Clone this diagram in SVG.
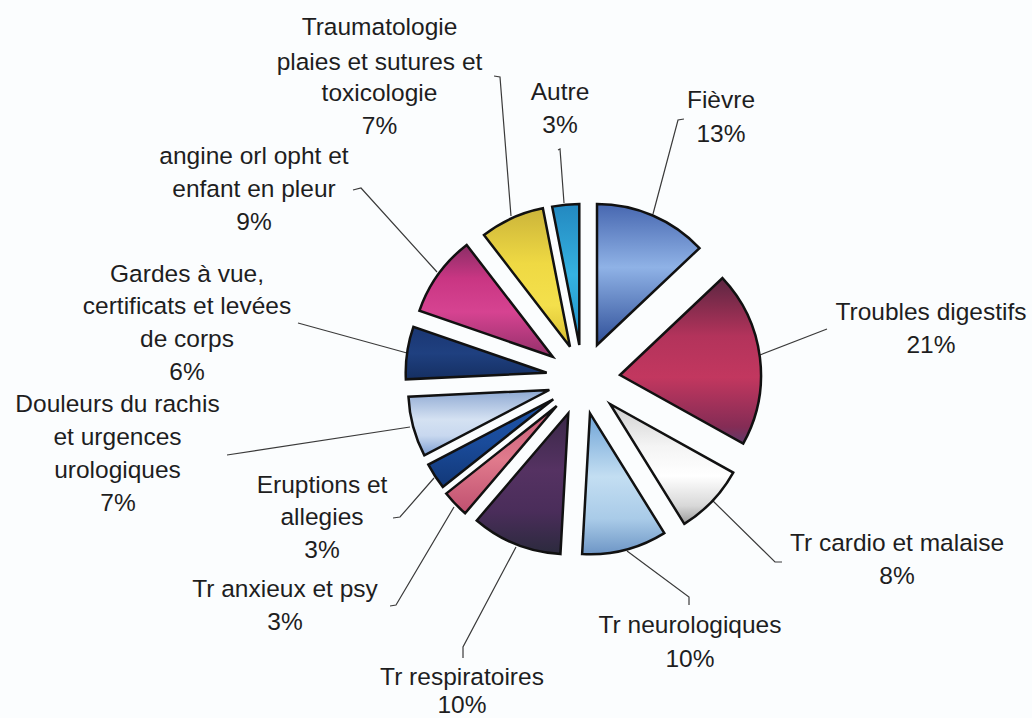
<svg xmlns="http://www.w3.org/2000/svg" width="1032" height="718" viewBox="0 0 1032 718">
<defs>
<style>
.lbl{font-family:"Liberation Sans",Arial,sans-serif;font-size:24.5px;fill:#1e1e1e;text-anchor:middle}
.slice{stroke:#111;stroke-width:2.5;stroke-linejoin:miter}
.lead{fill:none;stroke:#3a3a3a;stroke-width:1.2}
</style>
<linearGradient id="gFievre" x1="0" y1="0" x2="0" y2="1"><stop offset="0" stop-color="#4767b0"/><stop offset="0.45" stop-color="#8fb2e6"/><stop offset="1" stop-color="#2f4f98"/></linearGradient>
<linearGradient id="gTroubles" x1="0" y1="0" x2="0" y2="1"><stop offset="0" stop-color="#5b2641"/><stop offset="0.35" stop-color="#b3335b"/><stop offset="0.6" stop-color="#c2375f"/><stop offset="0.9" stop-color="#842c55"/><stop offset="1" stop-color="#5f3a6a"/></linearGradient>
<linearGradient id="gCardio" x1="0" y1="0" x2="0" y2="1"><stop offset="0" stop-color="#cfcfcf"/><stop offset="0.35" stop-color="#f4f4f4"/><stop offset="0.6" stop-color="#ffffff"/><stop offset="0.85" stop-color="#d8d8d8"/><stop offset="1" stop-color="#9a9a9a"/></linearGradient>
<linearGradient id="gNeuro" x1="0" y1="0" x2="0" y2="1"><stop offset="0" stop-color="#6ea3d6"/><stop offset="0.45" stop-color="#c3def2"/><stop offset="0.75" stop-color="#a9cbe8"/><stop offset="1" stop-color="#6d95c5"/></linearGradient>
<linearGradient id="gResp" x1="0" y1="0" x2="0" y2="1"><stop offset="0" stop-color="#3a2848"/><stop offset="0.4" stop-color="#553262"/><stop offset="0.7" stop-color="#4a2d5a"/><stop offset="1" stop-color="#2b2a3d"/></linearGradient>
<linearGradient id="gAnx" x1="0" y1="0" x2="0" y2="1"><stop offset="0" stop-color="#c85c78"/><stop offset="0.5" stop-color="#e07a8c"/><stop offset="1" stop-color="#c05070"/></linearGradient>
<linearGradient id="gErup" x1="0" y1="0" x2="0" y2="1"><stop offset="0" stop-color="#1e55a8"/><stop offset="0.5" stop-color="#1a4b9a"/><stop offset="1" stop-color="#123878"/></linearGradient>
<linearGradient id="gDoul" x1="0" y1="0" x2="0" y2="1"><stop offset="0" stop-color="#8da8d2"/><stop offset="0.45" stop-color="#d4e1f2"/><stop offset="0.7" stop-color="#c8d8ef"/><stop offset="1" stop-color="#7d9ed2"/></linearGradient>
<linearGradient id="gGardes" x1="0" y1="0" x2="0" y2="1"><stop offset="0" stop-color="#1a3672"/><stop offset="0.5" stop-color="#1f4080"/><stop offset="1" stop-color="#152f62"/></linearGradient>
<linearGradient id="gAngine" x1="0" y1="0" x2="0" y2="1"><stop offset="0" stop-color="#8a2e66"/><stop offset="0.3" stop-color="#c93683"/><stop offset="0.6" stop-color="#d64391"/><stop offset="1" stop-color="#93306a"/></linearGradient>
<linearGradient id="gTrauma" x1="0" y1="0" x2="0" y2="1"><stop offset="0" stop-color="#cbb43a"/><stop offset="0.4" stop-color="#efd943"/><stop offset="0.7" stop-color="#f4e04c"/><stop offset="1" stop-color="#d6bc2e"/></linearGradient>
<linearGradient id="gAutre" x1="0" y1="0" x2="0" y2="1"><stop offset="0" stop-color="#2388c0"/><stop offset="0.5" stop-color="#35b2e0"/><stop offset="1" stop-color="#1d8fc8"/></linearGradient>
</defs>
<rect x="0" y="0" width="1032" height="718" fill="#fbfdfe"/>

<g id="connectors">
<polyline class="lead" points="494,76 500,77 511,216"/>
<polyline class="lead" points="558,150 560,149 564,203"/>
<polyline class="lead" points="684,119 678,120 653,214"/>
<polyline class="lead" points="827,329 760,355"/>
<polyline class="lead" points="782,562 775,562 711,499"/>
<polyline class="lead" points="689,605 689,597 627,551"/>
<polyline class="lead" points="463,658 463,647 516,547"/>
<polyline class="lead" points="390,606 396,605 454,507"/>
<polyline class="lead" points="393,518 400,517 434,478"/>
<polyline class="lead" points="227,455 410,427"/>
<polyline class="lead" points="298,323 407,353"/>
<polyline class="lead" points="353,190 361,188 437,272"/>
</g>

<g id="fievre">
<path class="slice" fill="url(#gFievre)" d="M597,345 L597,204 A141,141 0 0 1 699.45,248.12 Z"/>
<text class="lbl" x="721" y="108">Fièvre</text>
<text class="lbl" x="721" y="141.5">13%</text>
</g>
<g id="troubles-digestifs">
<path class="slice" fill="url(#gTroubles)" d="M620,375 L722.45,278.12 A141,141 0 0 1 743.2,443.57 Z"/>
<text class="lbl" x="931" y="320">Troubles digestifs</text>
<text class="lbl" x="931" y="353">21%</text>
</g>
<g id="tr-cardio">
<path class="slice" fill="url(#gCardio)" d="M610,404 L733.2,472.57 A141,141 0 0 1 684.3,523.84 Z"/>
<text class="lbl" x="897" y="551">Tr cardio et malaise</text>
<text class="lbl" x="897" y="584">8%</text>
</g>
<g id="tr-neuro">
<path class="slice" fill="url(#gNeuro)" d="M590,413.3 L664.3,533.14 A141,141 0 0 1 582.13,554.08 Z"/>
<text class="lbl" x="690" y="633">Tr neurologiques</text>
<text class="lbl" x="690" y="666.5">10%</text>
</g>
<g id="tr-resp">
<path class="slice" fill="url(#gResp)" d="M568.3,413.3 L560.43,554.08 A141,141 0 0 1 476.73,520.52 Z"/>
<text class="lbl" x="462" y="685">Tr respiratoires</text>
<text class="lbl" x="462" y="713">10%</text>
</g>
<g id="tr-anxieux">
<path class="slice" fill="url(#gAnx)" d="M556.7,406 L465.13,513.22 A141,141 0 0 1 446.2,493.58 Z"/>
<text class="lbl" x="285" y="596.5">Tr anxieux et psy</text>
<text class="lbl" x="285" y="630">3%</text>
</g>
<g id="eruptions">
<path class="slice" fill="url(#gErup)" d="M553.3,399.3 L442.8,486.88 A141,141 0 0 1 428.35,464.63 Z"/>
<text class="lbl" x="322" y="492.5">Eruptions et</text>
<text class="lbl" x="322" y="525">allegies</text>
<text class="lbl" x="322" y="558">3%</text>
</g>
<g id="douleurs">
<path class="slice" fill="url(#gDoul)" d="M549.3,390 L424.35,455.33 A141,141 0 0 1 408.46,396.64 Z"/>
<text class="lbl" x="117.5" y="411.5">Douleurs du rachis</text>
<text class="lbl" x="117.5" y="445">et urgences</text>
<text class="lbl" x="117.5" y="478">urologiques</text>
<text class="lbl" x="118" y="510.5">7%</text>
</g>
<g id="gardes">
<path class="slice" fill="url(#gGardes)" d="M546.7,372.7 L405.86,379.34 A141,141 0 0 1 413.38,326.8 Z"/>
<text class="lbl" x="187" y="281.5">Gardes à vue,</text>
<text class="lbl" x="187" y="314">certificats et levées</text>
<text class="lbl" x="187" y="346.5">de corps</text>
<text class="lbl" x="187" y="380">6%</text>
</g>
<g id="angine">
<path class="slice" fill="url(#gAngine)" d="M552.7,356.7 L419.38,310.8 A141,141 0 0 1 466.68,244.99 Z"/>
<text class="lbl" x="254" y="164">angine orl opht et</text>
<text class="lbl" x="254" y="197">enfant en pleur</text>
<text class="lbl" x="254" y="230">9%</text>
</g>
<g id="traumatologie">
<path class="slice" fill="url(#gTrauma)" d="M570,346.7 L483.98,234.99 A141,141 0 0 1 542.86,208.34 Z"/>
<text class="lbl" x="379.5" y="34.5">Traumatologie</text>
<text class="lbl" x="379.5" y="70">plaies et sutures et</text>
<text class="lbl" x="379.5" y="101">toxicologie</text>
<text class="lbl" x="379.5" y="133.5">7%</text>
</g>
<g id="autre">
<path class="slice" fill="url(#gAutre)" d="M579.3,345 L552.16,206.64 A141,141 0 0 1 579.3,204 Z"/>
<text class="lbl" x="560" y="100">Autre</text>
<text class="lbl" x="560" y="133">3%</text>
</g>
</svg>
